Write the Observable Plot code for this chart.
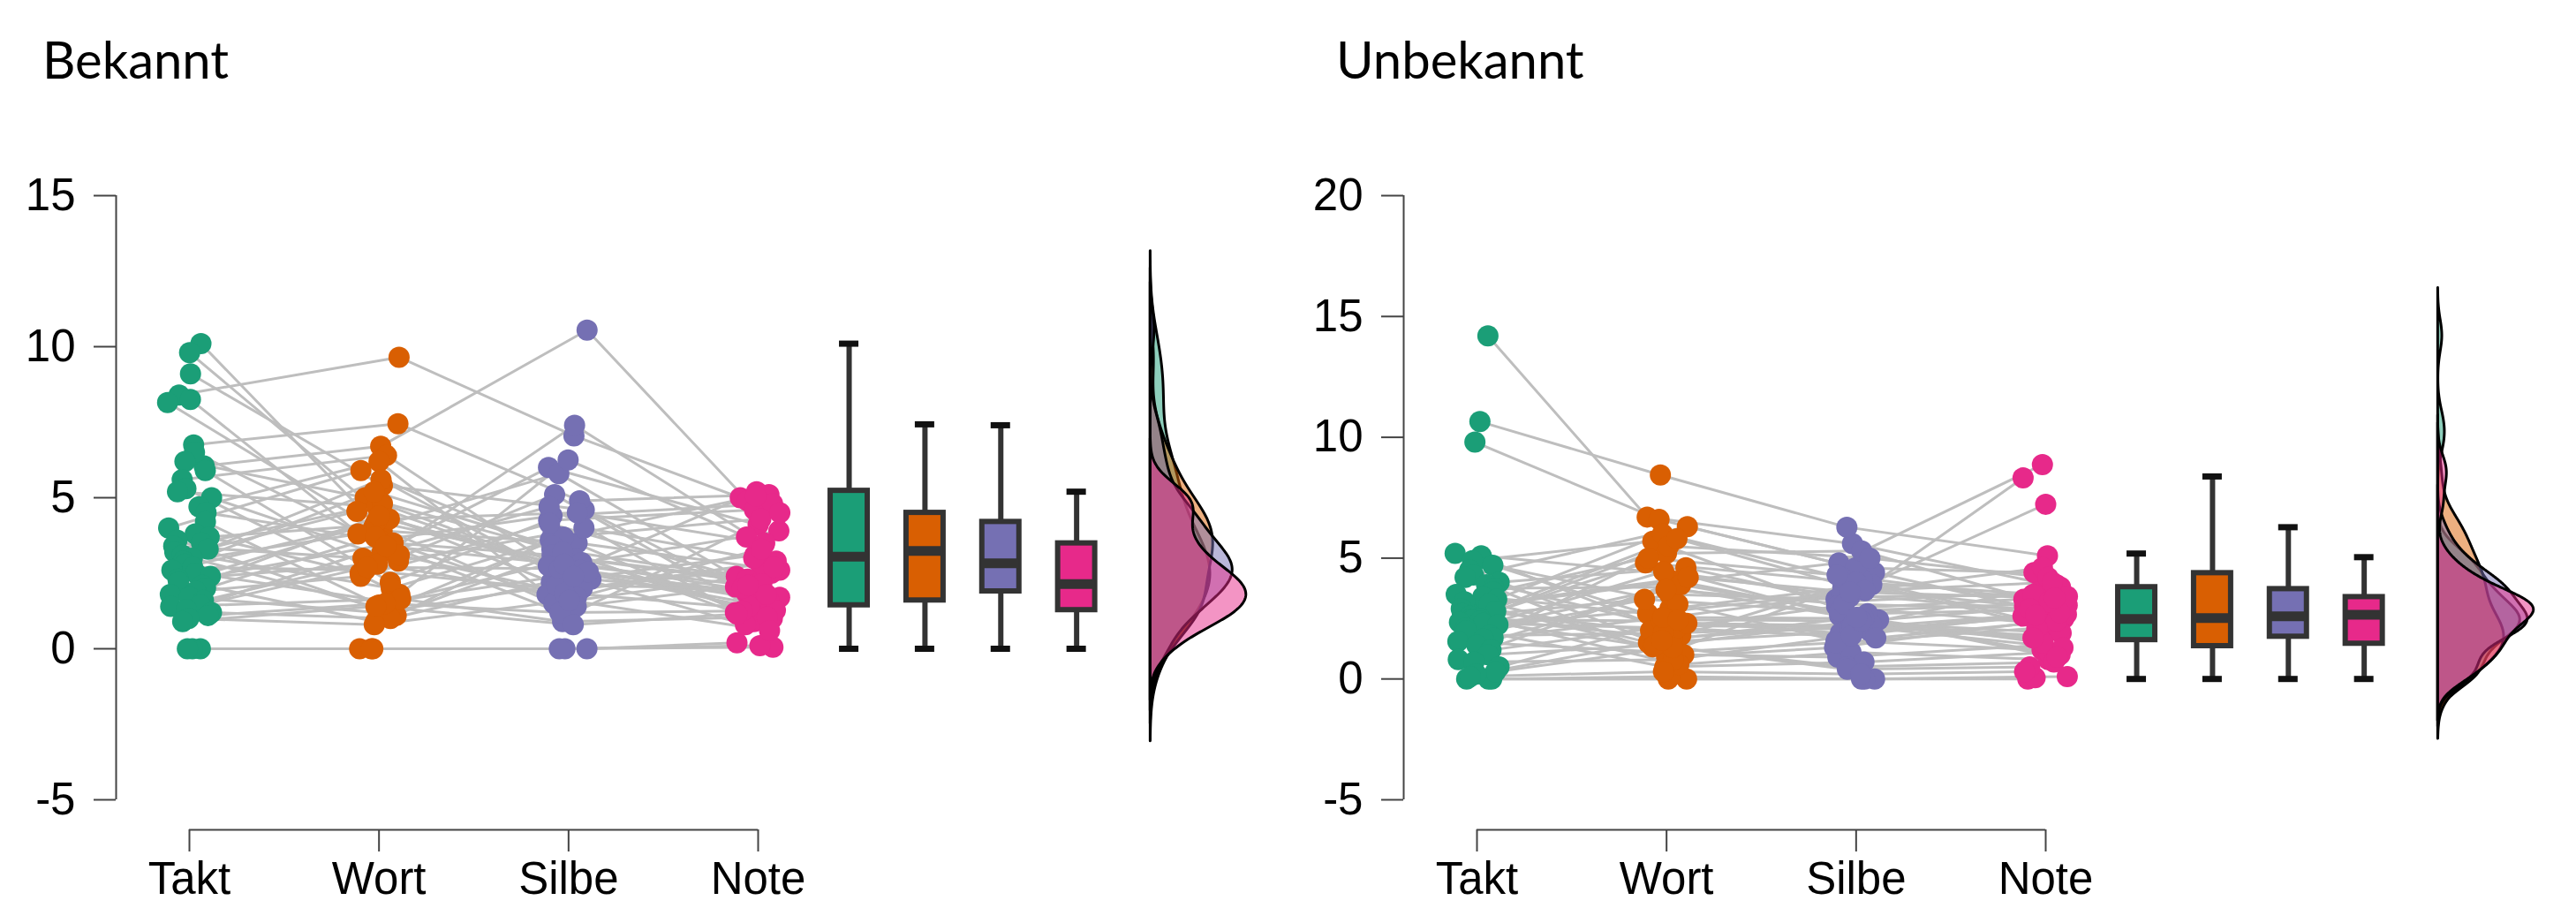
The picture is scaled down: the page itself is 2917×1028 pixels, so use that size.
<!DOCTYPE html>
<html><head><meta charset="utf-8">
<script src="https://cdn.jsdelivr.net/npm/d3@7"></script>
<script src="https://cdn.jsdelivr.net/npm/@observablehq/plot@0.6"></script>
<style>
body{margin:0;background:#fff;}
#wrap{position:relative;width:2917px;height:1028px;overflow:hidden;background:#fff;}
.panel{position:absolute;top:0;width:1458px;height:1028px;}
.title{position:absolute;top:38px;font-family:Lato,"Open Sans",sans-serif;font-size:58px;line-height:58px;color:#000;}
</style></head>
<body><div id="wrap"></div>
<script>
// ---- data ----
const categories = ["Takt", "Wort", "Silbe", "Note"];
const colors = ["#1B9E77", "#D95F02", "#7570B3", "#E7298A"];
const panelTitles = ["Bekannt", "Unbekannt"];
const yTicksBekannt = [-5, 0, 5, 10, 15];
const yTicksUnbekannt = [-5, 0, 5, 10, 15, 20];

// per-subject values (same index = same person)
const bekanntTakt  = [0,0,0,8.4,6.05,10.1,9.8,9.1,8.25,8.15,6.75,6.5,6.2,5.9,5.6,5.3,5.2,5.0,4.7,4.5,4.2,4.0,3.8,3.7,3.6,3.5,3.4,3.3,3.2,3.1,3.0,2.9,2.8,2.7,2.6,2.5,2.4,2.3,2.2,2.1,2.0,1.9,1.8,1.7,1.6,1.45,1.4,1.3,1.2,1.1,1.0,0.9];
const bekanntWort  = [0,0,0,9.65,6.7,3.9,4.45,5.4,3.2,4.0,7.45,3.3,5.0,2.2,6.4,1.8,4.7,2.9,6.2,3.6,1.45,5.9,2.5,4.1,1.1,4.8,3.0,5.6,2.0,4.55,1.3,3.8,5.2,2.6,4.3,1.55,3.5,2.8,4.2,0.9,3.7,2.4,4.4,1.2,3.1,2.7,1.65,3.4,1.0,1.5,0.8,1.4];
const bekanntSilbe = [0,0,0,7.05,10.55,3.5,2.2,4.6,6.0,5.8,4.9,7.4,3.3,4.25,2.7,6.25,2.5,3.8,1.8,4.4,3.0,2.85,5.1,1.5,3.6,2.3,4.7,2.0,3.7,2.6,4.0,1.1,3.4,1.95,4.5,2.55,3.1,1.7,2.9,3.2,1.4,4.15,2.75,2.1,1.85,2.65,0.9,2.8,2.4,1.2,1.6,0.8];
const bekanntNote  = [0.05,0.1,0.2,5.0,4.9,2.6,3.1,2.05,4.1,1.9,5.1,3.45,2.4,4.6,1.5,3.7,5.2,1.1,2.9,4.8,2.2,3.9,1.3,2.5,5.05,1.7,0.9,2.8,4.3,1.85,3.0,4.5,1.2,2.7,3.5,1.6,2.3,3.3,1.95,1.0,2.13,2.15,1.4,2.0,1.27,1.8,1.05,2.1,0.8,1.25,0.6,1.15];

const unbekanntTakt  = [14.2,10.65,9.8,0,0,0,3.0,2.2,1.9,5.2,5.1,5.0,4.9,4.7,4.5,4.3,4.2,4.0,3.9,3.75,3.6,3.5,3.4,3.3,3.2,3.1,2.9,2.8,2.7,2.6,2.5,2.47,2.45,2.4,2.35,2.3,2.25,2.1,2.0,1.8,1.7,1.65,1.55,1.4,1.2,1.0,0.8,0.7,0.5,0.3,0.2,0.1];
const unbekanntWort  = [6.7,8.44,6.6,0,0,0.1,4.0,2.9,3.5,2.5,4.3,1.8,5.7,3.1,1.2,6.3,2.2,4.6,0.9,3.8,5.2,1.5,2.7,6.0,1.0,4.1,2.0,5.5,0.6,3.3,1.7,4.8,2.4,1.33,5.8,2.1,3.9,0.5,4.45,1.9,2.55,5.0,1.1,3.7,2.3,1.4,4.2,0.8,2.45,1.3,1.6,0.3];
const unbekanntSilbe = [5.6,6.28,4.4,0,0,0,4.8,3.9,3.3,3.5,2.3,4.1,2.9,1.6,3.8,4.6,2.15,3.2,1.3,2.62,5.3,2.0,3.55,4.2,0.9,2.45,3.0,5.0,1.1,2.7,2.25,4.0,1.9,2.35,3.65,1.7,2.8,0.7,3.4,2.1,2.5,4.3,1.5,3.1,2.2,0.5,3.6,1.8,2.4,0.4,2.55,0.2];
const unbekanntNote  = [3.8,5.1,3.0,0,0.05,0.1,8.87,8.32,7.23,2.8,3.9,2.2,3.3,1.2,2.95,4.4,1.8,3.6,2.5,1.0,3.15,2.68,4.6,2.0,1.4,3.05,2.3,4.2,0.8,2.85,1.6,3.42,2.6,1.9,4.0,2.4,3.1,1.1,3.5,2.75,1.5,3.2,2.1,2.9,1.3,0.7,3.35,2.64,1.7,0.5,0.9,0.3];

// box-plot statistics (Takt, Wort, Silbe, Note)
const bekanntLow    = [0, 0, 0, 0];
const bekanntQ1     = [1.44, 1.6, 1.9, 1.28];
const bekanntMedian = [3.05, 3.24, 2.83, 2.14];
const bekanntQ3     = [5.23, 4.5, 4.2, 3.49];
const bekanntHigh   = [10.1, 7.43, 7.4, 5.2];

const unbekanntLow    = [0, 0, 0, 0];
const unbekanntQ1     = [1.61, 1.36, 1.75, 1.46];
const unbekanntMedian = [2.48, 2.52, 2.59, 2.66];
const unbekanntQ3     = [3.8, 4.38, 3.72, 3.39];
const unbekanntHigh   = [5.19, 8.38, 6.28, 5.04];

// ---- layout ----
const W = 1458, H = 918;
const XR = [214, 858], YR = [795, 111];
const xPos = [1, 2, 3, 4];
const boxX = [4.48, 4.88, 5.28, 5.68];
const densBase = 6.07;
const pxX = px => 1 + (px - XR[0]) / (XR[1] - XR[0]) * 3;
const boxHalf = pxX(XR[0] + 21) - 1;
const capHalf = pxX(XR[0] + 11) - 1;

// deterministic horizontal jitter (presentation only)
function jitter(i, c) {
  const h = Math.sin((i + 1) * 12.9898 + (c + 1) * 78.233) * 43758.5453;
  return (h - Math.floor(h) - 0.5) * 0.24;
}

function kde(values) {
  const v = values.slice().sort(d3.ascending);
  const n = v.length;
  const sd = d3.deviation(v);
  const iqr = d3.quantileSorted(v, 0.75) - d3.quantileSorted(v, 0.25);
  const bw = 0.9 * Math.min(sd, iqr / 1.34) * Math.pow(n, -0.2);
  const lo = v[0] - 3 * bw, hi = v[n - 1] + 3 * bw;
  const pts = [];
  for (let k = 0; k <= 400; k++) {
    const y = lo + (hi - lo) * k / 400;
    let s = 0;
    for (const x of v) { const u = (y - x) / bw; s += Math.exp(-0.5 * u * u); }
    pts.push({y, d: s / (n * bw * Math.sqrt(2 * Math.PI))});
  }
  return pts;
}

const panels = [
  {title: panelTitles[0], yDomain: [-5, 15], yTicks: yTicksBekannt,
   series: [bekanntTakt, bekanntWort, bekanntSilbe, bekanntNote],
   lo: bekanntLow, q1: bekanntQ1, med: bekanntMedian, q3: bekanntQ3, hi: bekanntHigh, left: 0, titleLeft: 48},
  {title: panelTitles[1], yDomain: [-5, 20], yTicks: yTicksUnbekannt,
   series: [unbekanntTakt, unbekanntWort, unbekanntSilbe, unbekanntNote],
   lo: unbekanntLow, q1: unbekanntQ1, med: unbekanntMedian, q3: unbekanntQ3, hi: unbekanntHigh, left: 1458, titleLeft: 55}
];

const wrap = document.getElementById("wrap");
const font = "'Liberation Sans', Arial, Helvetica, sans-serif";
const FS = 51;

for (const p of panels) {
  const pxY = px => p.yDomain[0] + (YR[0] - px) / (YR[0] - YR[1]) * (p.yDomain[1] - p.yDomain[0]);
  const n = p.series[0].length;
  const lineData = [];
  for (let s = 0; s < n; s++) for (let c = 0; c < 4; c++)
    lineData.push({s, c, v: p.series[c][s], x: xPos[c] + jitter(s, c)});
  const dotData = lineData.slice().sort((a, b) => a.c - b.c || a.s - b.s);
  const dens = p.series.map(kde);
  const maxD = d3.max(dens, ds => d3.max(ds, d => d.d));
  const kx = 0.505 / maxD;
  const idx = [0, 1, 2, 3];

  const marks = [
    // y axis
    Plot.ruleX([pxX(131)], {y1: p.yDomain[0], y2: p.yDomain[1], stroke: "#444", strokeWidth: 2}),
    Plot.ruleY(p.yTicks, {y: d => d, x1: pxX(106), x2: pxX(131), stroke: "#444", strokeWidth: 2}),
    Plot.text(p.yTicks, {y: d => d, x: pxX(85), text: d => String(d), textAnchor: "end", fontSize: FS, fill: "#000"}),
    // x axis
    Plot.ruleY([pxY(829)], {x1: 1, x2: 4, stroke: "#444", strokeWidth: 2}),
    Plot.ruleX(xPos, {x: d => d, y1: pxY(829), y2: pxY(854), stroke: "#444", strokeWidth: 2}),
    Plot.text(categories, {x: (d, i) => xPos[i], y: pxY(885), text: d => d, fontSize: FS, fill: "#000"}),
    // connecting lines
    Plot.line(lineData, {x: "x", y: "v", z: "s", stroke: "#BEBEBE", strokeWidth: 3}),
    // points
    Plot.dot(dotData, {x: "x", y: "v", r: 12, fill: d => colors[d.c], stroke: null}),
    // box plots
    Plot.ruleX(idx, {x: i => boxX[i], y1: i => p.q3[i], y2: i => p.hi[i], stroke: "#333", strokeWidth: 6}),
    Plot.ruleX(idx, {x: i => boxX[i], y1: i => p.lo[i], y2: i => p.q1[i], stroke: "#333", strokeWidth: 6}),
    Plot.ruleY(idx, {y: i => p.hi[i], x1: i => boxX[i] - capHalf, x2: i => boxX[i] + capHalf, stroke: "#111", strokeWidth: 7}),
    Plot.ruleY(idx, {y: i => p.lo[i], x1: i => boxX[i] - capHalf, x2: i => boxX[i] + capHalf, stroke: "#111", strokeWidth: 7}),
    Plot.rect(idx, {x1: i => boxX[i] - boxHalf, x2: i => boxX[i] + boxHalf, y1: i => p.q1[i], y2: i => p.q3[i],
      fill: i => colors[i], stroke: "#333", strokeWidth: 6}),
    Plot.ruleY(idx, {y: i => p.med[i], x1: i => boxX[i] - boxHalf, x2: i => boxX[i] + boxHalf, stroke: "#333", strokeWidth: 11}),
  ];
  // densities
  dens.forEach((ds, c) => {
    marks.push(Plot.areaX(ds, {y: "y", x1: densBase, x2: d => densBase + d.d * kx,
      fill: colors[c], fillOpacity: 0.5, stroke: "#000", strokeWidth: 3, strokeLinejoin: "round"}));
  });

  const chart = Plot.plot({
    width: W, height: H,
    x: {domain: [1, 4], range: XR, axis: null},
    y: {domain: p.yDomain, range: YR, axis: null},
    color: {type: "identity"},
    style: {fontFamily: font, fontSize: FS + "px", background: "#fff", overflow: "visible"},
    marks
  });

  const panel = document.createElement("div");
  panel.className = "panel";
  panel.style.left = p.left + "px";
  const t = document.createElement("div");
  t.className = "title";
  t.style.left = p.titleLeft + "px";
  t.textContent = p.title;
  chart.style.position = "absolute";
  chart.style.top = "110px";
  chart.style.left = "0px";
  panel.appendChild(t);
  panel.appendChild(chart);
  wrap.appendChild(panel);
}
</script>
</body></html>
